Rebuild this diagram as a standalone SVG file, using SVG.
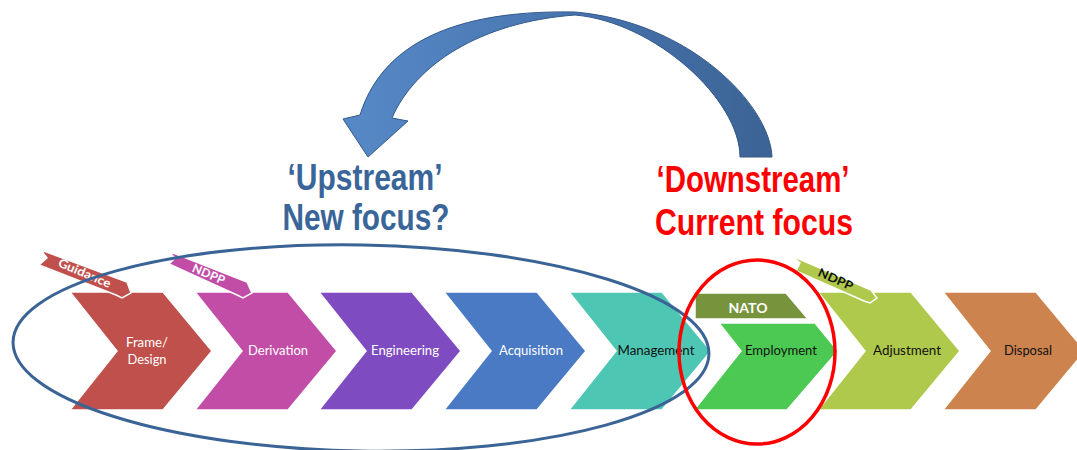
<svg xmlns="http://www.w3.org/2000/svg" width="1077" height="450" viewBox="0 0 1077 450">
<defs>
<linearGradient id="arrowGrad" x1="360" y1="0" x2="772" y2="0" gradientUnits="userSpaceOnUse">
<stop offset="0" stop-color="#5688C6"/>
<stop offset="0.55" stop-color="#4673AD"/>
<stop offset="1" stop-color="#3C6394"/>
</linearGradient>
<style>
.chev{stroke:#ffffff;stroke-width:1.5}
.lbl{font-family:Lato,"Liberation Sans",sans-serif;font-size:13px;text-anchor:middle}
.w{fill:#ffffff}
.k{fill:#111111}
.title{font-family:"Liberation Sans",Arial,sans-serif;font-weight:bold;font-size:37px;text-anchor:middle}
.rib{stroke:#ffffff;stroke-width:1.5}
.ribt{font-family:Lato,"Liberation Sans",sans-serif;font-size:12px;font-weight:bold;text-anchor:middle}
</style>
</defs>
<rect width="1077" height="450" fill="#ffffff"/>

<g id="frame-design">
<polygon class="chev" fill="#BF504C" points="70,292 163,292 212,351 163,410 70,410 117,351"/>
<text class="lbl w" x="147" y="347" textLength="42" lengthAdjust="spacingAndGlyphs">Frame/</text>
<text class="lbl w" x="147" y="364" textLength="39" lengthAdjust="spacingAndGlyphs">Design</text>
</g>
<g id="derivation">
<polygon class="chev" fill="#C24DA7" points="195,292 288,292 337,351 288,410 195,410 242,351"/>
<text class="lbl w" x="278" y="355" textLength="60" lengthAdjust="spacingAndGlyphs">Derivation</text>
</g>
<g id="engineering">
<polygon class="chev" fill="#7F4BC0" points="319,292 412,292 461,351 412,410 319,410 366,351"/>
<text class="lbl w" x="405" y="355" textLength="68" lengthAdjust="spacingAndGlyphs">Engineering</text>
</g>
<g id="acquisition">
<polygon class="chev" fill="#4A7AC4" points="444,292 537,292 586,351 537,410 444,410 491,351"/>
<text class="lbl w" x="531" y="355" textLength="64" lengthAdjust="spacingAndGlyphs">Acquisition</text>
</g>
<g id="management">
<polygon class="chev" fill="#4DC7B4" points="569,292 662,292 711,351 662,410 569,410 616,351"/>
<text class="lbl k" x="656" y="355" textLength="77" lengthAdjust="spacingAndGlyphs">Management</text>
</g>
<g id="nato">
<polygon class="chev" fill="#77933C" points="695,293 786,293 808,319 695,319"/>
<text class="lbl w" x="748" y="313" font-size="15" font-weight="bold" textLength="39" lengthAdjust="spacingAndGlyphs">NATO</text>
</g>
<g id="employment">
<polygon class="chev" fill="#4CC952" points="719,323 815,323 838,351 787,410 694,410 741,351"/>
<text class="lbl k" x="781" y="355" textLength="72" lengthAdjust="spacingAndGlyphs">Employment</text>
</g>
<g id="adjustment">
<polygon class="chev" fill="#AFC94C" points="818,292 911,292 960,351 911,410 818,410 865,351"/>
<text class="lbl k" x="907" y="355" textLength="68" lengthAdjust="spacingAndGlyphs">Adjustment</text>
</g>
<g id="disposal">
<polygon class="chev" fill="#CC834D" points="943,292 1036,292 1085,351 1036,410 943,410 990,351"/>
<text class="lbl k" x="1028" y="355" textLength="48" lengthAdjust="spacingAndGlyphs">Disposal</text>
</g>

<g id="ribbon-guidance">
<polygon class="rib" fill="#BF504C" points="41,250 127,282 131,293 122,298 116,295 39,265 47,258"/>
<text class="ribt w" x="0" y="0" transform="translate(83,277) rotate(23)" textLength="56" lengthAdjust="spacingAndGlyphs">Guidance</text>
</g>
<g id="ribbon-ndpp-1">
<polygon class="rib" fill="#C24DA7" points="168,251 247,282 252,293 243,298 237,295 169,264 175,258"/>
<text class="ribt w" x="0" y="0" transform="translate(207,278) rotate(23)" textLength="34" lengthAdjust="spacingAndGlyphs">NDPP</text>
</g>
<g id="ribbon-ndpp-2">
<polygon class="rib" fill="#AFC94C" points="792,256 871,290 877,298 870,303 864,301 796,271 800,263"/>
<text class="ribt k" x="0" y="0" transform="translate(834,283) rotate(24)" textLength="37" lengthAdjust="spacingAndGlyphs">NDPP</text>
</g>

<g id="connectors">
<path id="curved-arrow" fill="url(#arrowGrad)" stroke="#34598A" stroke-width="1" d="M 772,157 C 770,105 690,22 575,12 C 470,10 385,35 360,115 L 343,119 L 368,157 L 408,121 L 392,118 C 415,65 480,22 575,15 C 655,22 740,100 740,157 Z"/>
<ellipse id="upstream-ellipse" cx="361" cy="348" rx="348" ry="103" transform="rotate(1 361 348)" fill="none" stroke="#3B6496" stroke-width="3"/>
<ellipse id="downstream-ellipse" cx="757" cy="352" rx="78" ry="92" fill="none" stroke="#FF0000" stroke-width="3.5"/>
</g>

<g id="upstream-label">
<text class="title" fill="#3A6599" x="365" y="190" textLength="155" lengthAdjust="spacingAndGlyphs">‘Upstream’</text>
<text class="title" fill="#3A6599" x="366" y="230" textLength="167" lengthAdjust="spacingAndGlyphs">New focus?</text>
</g>
<g id="downstream-label">
<text class="title" fill="#FF0000" x="753" y="192" textLength="193" lengthAdjust="spacingAndGlyphs">‘Downstream’</text>
<text class="title" fill="#FF0000" x="754" y="235" textLength="198" lengthAdjust="spacingAndGlyphs">Current focus</text>
</g>
</svg>
